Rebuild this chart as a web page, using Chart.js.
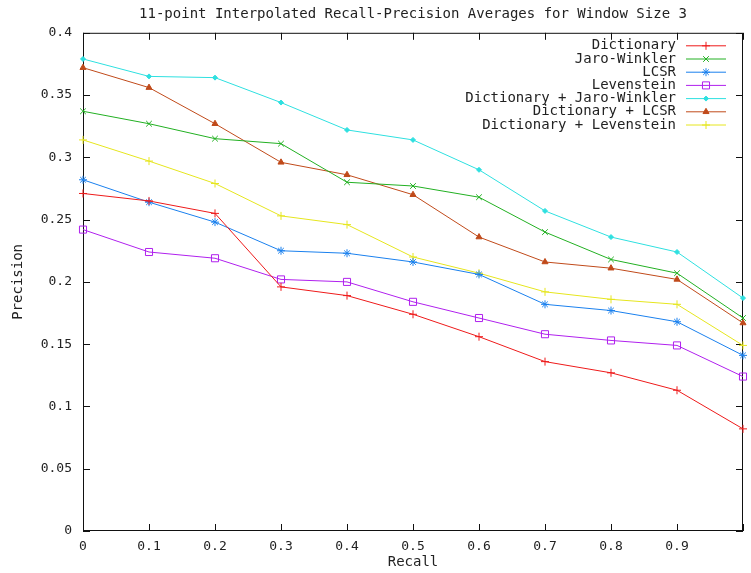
<!DOCTYPE html>
<html>
<head>
<meta charset="utf-8">
<title>11-point Interpolated Recall-Precision Averages</title>
<script src="https://cdn.jsdelivr.net/npm/chart.js@4.4.1/dist/chart.umd.min.js"></script>
<style>
  body { margin: 0; background: #fff; }
  #wrap { width: 751px; height: 573px; }
</style>
</head>
<body>
<div id="wrap"><canvas id="prChart"></canvas></div>
<script>
const recall = [0, 0.1, 0.2, 0.3, 0.4, 0.5, 0.6, 0.7, 0.8, 0.9, 1];

const dictionary  = [0.271, 0.265, 0.255, 0.196, 0.189, 0.174, 0.156, 0.136, 0.127, 0.113, 0.082];
const jaroWinkler = [0.337, 0.327, 0.315, 0.311, 0.280, 0.277, 0.268, 0.240, 0.218, 0.207, 0.171];
const lcsr        = [0.282, 0.264, 0.248, 0.225, 0.223, 0.216, 0.206, 0.182, 0.177, 0.168, 0.141];
const levenstein  = [0.242, 0.224, 0.219, 0.202, 0.200, 0.184, 0.171, 0.158, 0.153, 0.149, 0.124];
const dictJaro    = [0.379, 0.365, 0.364, 0.344, 0.322, 0.314, 0.290, 0.257, 0.236, 0.224, 0.187];
const dictLcsr    = [0.372, 0.356, 0.327, 0.296, 0.286, 0.270, 0.236, 0.216, 0.211, 0.202, 0.167];
const dictLev     = [0.314, 0.297, 0.279, 0.253, 0.246, 0.220, 0.207, 0.192, 0.186, 0.182, 0.149];

const MONO = "'DejaVu Sans Mono', monospace";
const TEXT = "#222";

// name, values, colour, marker
const series = [
  ["Dictionary", dictionary, "#ee1a1a", "cross", 4, false],
  ["Jaro-Winkler", jaroWinkler, "#22b022", "crossRot", 4, false],
  ["LCSR", lcsr, "#1a80ee", "star", 4, false],
  ["Levenstein", levenstein, "#b020ee", "rect", 5, false],
  ["Dictionary + Jaro-Winkler", dictJaro, "#2ee0e0", "rectRot", 2.5, true],
  ["Dictionary + LCSR", dictLcsr, "#c04a1a", "triangle", 3.5, true],
  ["Dictionary + Levenstein", dictLev, "#e6e61e", "cross", 4, false]
];

// gnuplot style frame with inward ticks on all four sides
const frameTicks = {
  id: "frameTicks",
  beforeDatasetsDraw(chart) {
    const { ctx, chartArea: a, scales } = chart;
    const len = 7;
    ctx.save();
    ctx.strokeStyle = "#111";
    ctx.lineWidth = 1;
    ctx.strokeRect(a.left + 0.5, a.top + 0.5, a.right - a.left - 1, a.bottom - a.top - 1);
    ctx.beginPath();
    scales.x.ticks.forEach(t => {
      const x = Math.round(scales.x.getPixelForValue(t.value)) + 0.5;
      ctx.moveTo(x, a.bottom); ctx.lineTo(x, a.bottom - len);
      ctx.moveTo(x, a.top); ctx.lineTo(x, a.top + len);
    });
    scales.y.ticks.forEach(t => {
      const y = Math.round(scales.y.getPixelForValue(t.value)) + 0.5;
      ctx.moveTo(a.left, y); ctx.lineTo(a.left + len, y);
      ctx.moveTo(a.right, y); ctx.lineTo(a.right - len, y);
    });
    ctx.stroke();
    ctx.restore();
  }
};

// key in the top right corner, text right aligned and sample on the right
const keyBox = {
  id: "keyBox",
  afterDatasetsDraw(chart) {
    const { ctx, chartArea: a } = chart;
    ctx.save();
    ctx.font = "14px " + MONO;
    ctx.textAlign = "right";
    ctx.textBaseline = "middle";
    chart.data.datasets.forEach((ds, i) => {
      const y = a.top + 13 + i * 13.2;
      ctx.fillStyle = TEXT;
      ctx.fillText(ds.label, a.right - 67, y);
      ctx.strokeStyle = ds.borderColor;
      ctx.lineWidth = 1;
      ctx.beginPath();
      ctx.moveTo(a.right - 57, y);
      ctx.lineTo(a.right - 17, y);
      ctx.stroke();
      ctx.fillStyle = ds.pointBackgroundColor;
      Chart.helpers.drawPoint(ctx, {
        pointStyle: ds.pointStyle, radius: ds.pointRadius, rotation: 0, borderWidth: 1
      }, a.right - 37, y);
    });
    ctx.restore();
  }
};

Chart.defaults.font.family = MONO;
Chart.defaults.color = TEXT;

new Chart(document.getElementById("prChart"), {
  type: "line",
  data: {
    datasets: series.map(([name, vals, color, style, r, filled]) => ({
      label: name,
      data: recall.map((x, i) => ({ x: x, y: vals[i] })),
      borderColor: color,
      backgroundColor: color,
      pointBackgroundColor: filled ? color : "rgba(0,0,0,0)",
      pointBorderColor: color,
      pointStyle: style,
      pointRadius: r,
      pointBorderWidth: 1,
      borderWidth: 1,
      tension: 0,
      fill: false,
      clip: false
    }))
  },
  options: {
    responsive: true,
    maintainAspectRatio: false,
    animation: false,
    layout: { padding: { left: 0, right: 1, top: 0, bottom: 0 } },
    plugins: {
      legend: { display: false },
      tooltip: { enabled: false },
      title: {
        display: true,
        text: "11-point Interpolated Recall-Precision Averages for Window Size 3",
        fullSize: false,
        color: TEXT,
        font: { size: 14, weight: "normal", family: MONO },
        padding: { top: 6, bottom: 10 }
      }
    },
    scales: {
      x: {
        type: "linear",
        min: 0,
        max: 1,
        grid: { display: false, drawTicks: false },
        border: { display: false },
        ticks: {
          stepSize: 0.1,
          padding: 8,
          maxRotation: 0,
          font: { size: 13 },
          callback: v => (v >= 1 ? "" : String(+v.toFixed(1)))
        },
        title: {
          display: true,
          text: "Recall",
          font: { size: 14 },
          padding: { top: 2, bottom: 2 }
        },
        afterFit: s => { s.height = 42; }
      },
      y: {
        min: 0,
        max: 0.4,
        grid: { display: false, drawTicks: false },
        border: { display: false },
        ticks: {
          stepSize: 0.05,
          padding: 11,
          font: { size: 13 },
          callback: v => String(+v.toFixed(2))
        },
        title: {
          display: true,
          text: "Precision",
          font: { size: 14 },
          padding: { top: 10, bottom: 0 }
        },
        afterFit: s => { s.width = 83; }
      }
    }
  },
  plugins: [frameTicks, keyBox]
});
</script>
</body>
</html>
